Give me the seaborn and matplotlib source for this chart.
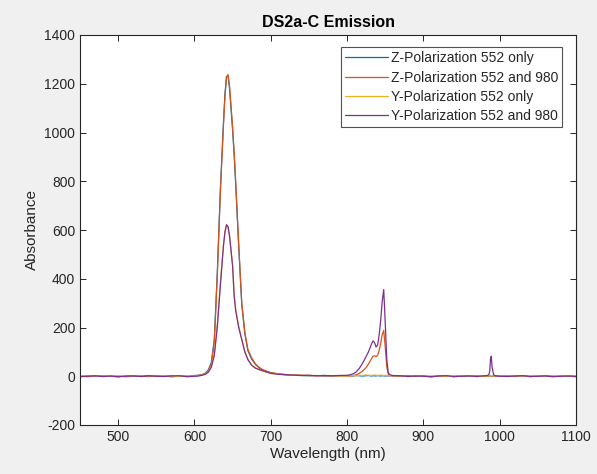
import numpy as np
import pandas as pd
import matplotlib
matplotlib.use("Agg")
import matplotlib.pyplot as plt
import seaborn as sns

wavelength = ([450, 460, 470, 480, 490, 500, 510, 520, 530, 540, 550, 560, 570, 580, 590, 600]
              + [605, 610, 614, 618, 622, 626, 630, 634, 638, 640, 642, 644, 646, 650, 652, 654, 658,
                 662, 666, 670, 675, 680, 685, 690, 695, 700]
              + [710, 720, 730, 740, 750, 760, 770, 780, 790, 800]
              + [804, 808, 812, 816, 820, 824, 828, 832, 834, 836, 838, 840, 842, 844, 846, 848, 850,
                 852, 854, 856, 860]
              + [870, 880, 890, 900, 910, 920, 930, 940, 950, 960, 970, 980]
              + [984, 986, 987, 988, 989, 990, 992, 994]
              + [1000, 1010, 1020, 1030, 1040, 1050, 1060, 1070, 1080, 1090, 1100])

z_552_only = ([-1, 1, 2, -1, 0, -2, 1, 2, -1, 0, 2, 1, -2, 0, 1, 3]
              + [4, 7, 12, 25, 55, 150, 430, 770, 1040, 1160, 1230, 1232, 1180, 1010, 910, 790, 530,
                 295, 175, 105, 70, 48, 34, 25, 19, 14]
              + [9, 6, 4, 3, 2, 3, 1, 2, 3, 2]
              + [2, 1, 3, 2, 1, 2, 3, 1, 2, 2, 1, 3, 2, 1, 2, 2, 1, 2, 1, 2, 1]
              + [0, 2, -1, 1, -1, 0, 2, -2, 1, 0, 1, -1]
              + [1, 0, 2, 1, 1, 0, 1, 2]
              + [0, 1, -1, 1, 0, -1, 2, 0, -1, 1, 0])

z_552_980 = ([1, -2, 0, 2, -1, 1, -2, 0, 1, 3, -1, 0, 2, -1, 1, 2]
             + [3, 6, 10, 22, 48, 140, 420, 760, 1030, 1150, 1225, 1238, 1190, 1020, 920, 800, 540,
                300, 180, 110, 75, 50, 36, 26, 20, 15]
             + [10, 7, 5, 4, 3, 2, 3, 1, 2, 2]
             + [2, 3, 6, 12, 20, 32, 50, 72, 82, 84, 80, 86, 105, 135, 170, 188, 120, 40, 8, 4, 2]
             + [1, -1, 2, 0, -2, 1, 0, -1, 2, 1, -1, 0]
             + [1, 2, 2, 3, 3, 2, 1, 0]
             + [1, -1, 0, 2, -2, 1, 0, -1, 1, 0, -2])

y_552_only = ([0, 1, -1, 1, 2, 0, -1, 1, 0, -2, 1, 2, 0, -1, 2, 1]
              + [2, 5, 9, 18, 40, 90, 215, 385, 540, 595, 618, 612, 572, 455, 335, 275, 205,
                 152, 102, 70, 46, 34, 27, 21, 16, 12]
              + [9, 6, 5, 4, 3, 2, 3, 2, 2, 1]
              + [2, 3, 2, 4, 3, 5, 4, 3, 4, 5, 4, 3, 4, 5, 4, 3, 4, 3, 2, 3, 2]
              + [1, 0, 2, -1, 1, 0, -1, 1, 2, 0, -1, 1]
              + [1, 2, 1, 2, 3, 2, 1, 1]
              + [1, 0, 2, -1, 0, 1, -1, 1, 0, 2, -1])

y_552_980 = ([-2, 0, 1, -1, 1, -2, 0, 1, -1, 1, 0, -1, 1, 2, -2, 0]
             + [1, 4, 8, 16, 36, 85, 205, 375, 535, 592, 622, 614, 575, 451, 330, 270, 200,
                150, 100, 68, 45, 33, 27, 22, 17, 12]
             + [8, 6, 5, 3, 4, 2, 3, 2, 3, 4]
             + [6, 10, 18, 32, 52, 75, 100, 132, 145, 138, 120, 128, 168, 228, 305, 356, 220, 70,
                14, 6, 3]
             + [2, -1, 1, 0, -2, 1, 2, -1, 0, 1, -1, 2]
             + [3, 8, 22, 72, 82, 38, 7, 2]
             + [0, -1, 1, 2, -1, 0, 1, -2, 0, 1, -1])

series_labels = ["Z-Polarization 552 only", "Z-Polarization 552 and 980",
                 "Y-Polarization 552 only", "Y-Polarization 552 and 980"]
series_values = [z_552_only, z_552_980, y_552_only, y_552_980]
colors = ["#0072BD", "#D95319", "#EDB120", "#7E2F8E"]

frames = []
for lab, vals in zip(series_labels, series_values):
    assert len(vals) == len(wavelength), (lab, len(vals), len(wavelength))
    frames.append(pd.DataFrame({"Wavelength": wavelength, "Value": vals, "Series": lab}))
df = pd.concat(frames, ignore_index=True)

sns.set_style("ticks")
plt.rcParams['font.family'] = ['Liberation Sans', 'DejaVu Sans']
plt.rcParams['axes.unicode_minus'] = False

fig = plt.figure(figsize=(5.97, 4.74), dpi=100, facecolor="#F0F0F0")
ax = fig.add_axes([80 / 597, 1 - 425 / 474, (576 - 80) / 597, (425 - 35) / 474])
ax.set_facecolor("white")

sns.lineplot(data=df, x="Wavelength", y="Value", hue="Series", hue_order=series_labels,
             palette=colors, estimator=None, sort=False, linewidth=0.9, ax=ax)

ax.set_xlim(450, 1100)
ax.set_ylim(-200, 1400)
ax.set_xticks(range(500, 1101, 100))
ax.set_yticks(range(-200, 1401, 200))
axc = "#262626"
for s in ax.spines.values():
    s.set_visible(True)
    s.set_color(axc)
    s.set_linewidth(0.8)
ax.tick_params(direction="in", top=True, right=True, length=4, width=0.7,
               colors=axc, labelsize=10, labelcolor=axc)

ax.set_xlabel("Wavelength (nm)", fontsize=11, color=axc, labelpad=2)
ax.set_ylabel("Absorbance", fontsize=11, color=axc, labelpad=4)
ax.set_title("DS2a-C Emission", fontsize=11.5, fontweight="bold", color="black", pad=6)

leg = ax.legend(loc="upper right", bbox_to_anchor=(0.972, 0.969), fontsize=10,
                frameon=True, fancybox=False, handlelength=3.1, handletextpad=0.2,
                borderpad=0.3, labelspacing=0.38, borderaxespad=0.0)
leg.get_frame().set_edgecolor("#262626")
leg.get_frame().set_linewidth(0.8)
leg.set_title(None)

fig.savefig("out.png", dpi=100, facecolor=fig.get_facecolor())
